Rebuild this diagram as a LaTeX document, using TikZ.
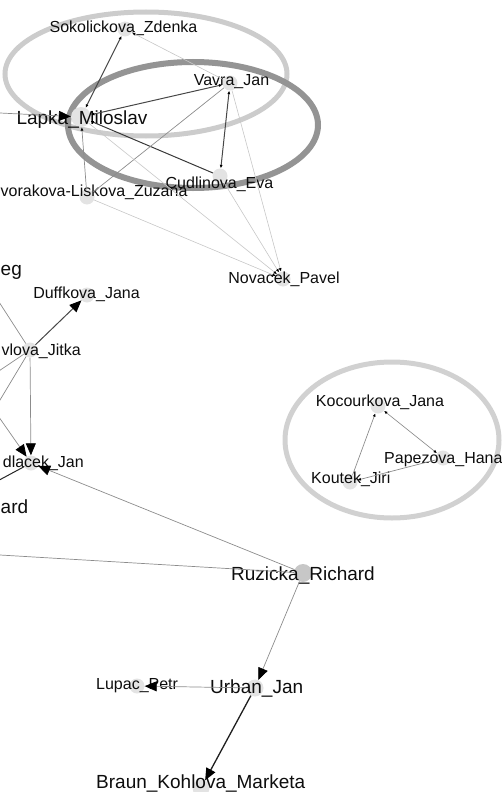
\documentclass[tikz,border=0pt]{standalone}
\usepackage{fontspec}
\setmainfont{Liberation Sans}
\usetikzlibrary{arrows.meta}

\begin{document}
\begin{tikzpicture}[x=1pt,y=-1pt,>={Latex[length=3.5pt,width=3pt,color=black]},
  dot/.style={circle,fill=black!11,inner sep=0pt,minimum size=15pt},
  lbl/.style={font=\fontsize{16}{16}\selectfont,inner sep=0pt,text=black!95,anchor=base},
  biglbl/.style={font=\fontsize{19}{19}\selectfont,inner sep=0pt,text=black!95,anchor=base},
  ring/.style={line width=5pt},
  link/.style={draw=black!45,line width=0.7pt},
  faint/.style={draw=black!22,line width=0.6pt},
  strong/.style={draw=black!72,line width=1pt},
  bigtip/.style={-{Triangle[length=12pt,width=10pt,color=black]}}]
\clip (0,0) rectangle (502,792);

\draw [ring,black!20] (146,74) ellipse [x radius=141pt, y radius=62pt];
\draw [ring,black!42,line width=6pt] (193,125) ellipse [x radius=125pt, y radius=63pt];
\draw [ring,black!18] (392,440) ellipse [x radius=107pt, y radius=78pt];

\node [dot] (sokol) at (125,29) {};
\node [dot] (vavra) at (230,83) {};
\node [dot,minimum size=20pt] (lapka) at (81,117) {};
\node [dot] (cudlin) at (220,176) {};
\node [dot] (dvorak) at (87,197) {};
\node [dot] (novacek) at (283,279) {};
\node [dot] (duffk) at (87,295) {};
\node [dot] (pavlova) at (30,350) {};
\node [dot] (sedlacek) at (31,463) {};
\node [dot,fill=black!22,minimum size=18pt] (ruzicka) at (303,573) {};
\node [dot] (kocour) at (378,406) {};
\node [dot] (papez) at (443,458) {};
\node [dot] (koutek) at (350,482) {};
\node [dot,minimum size=17pt] (urban) at (255,688) {};
\node [dot] (lupac) at (137,686) {};
\node [dot,minimum size=17pt] (braun) at (201,788) {};

\coordinate (offA) at (-10,112.5);
\coordinate (offB) at (-10,288);
\coordinate (offC) at (-10,377);
\coordinate (offD) at (-6,410);
\coordinate (offE) at (-10,485);
\coordinate (offF) at (-10,554.4);

\node [lbl] (sokol-l) at (123.5,33) {Sokolickova\_Zdenka};
\node [lbl] (vavra-l) at (231.5,85) {Vavra\_Jan};
\node [biglbl] (lapka-l) at (82,124) {Lapka\_Miloslav};
\node [lbl] (cudlin-l) at (219.5,188) {Cudlinova\_Eva};
\node [lbl,anchor=base west] (dvorak-l) at (0.5,196) {vorakova-Liskova\_Zuzana};
\node [lbl] (novacek-l) at (284,283) {Novacek\_Pavel};
\node [biglbl,anchor=base west] (eg-l) at (0.5,275) {eg};
\node [lbl] (duffk-l) at (86.5,298) {Duffkova\_Jana};
\node [lbl,anchor=base east] (pavlova-l) at (81,355) {vlova\_Jitka};
\node [lbl,anchor=base east] (sedlacek-l) at (84,467) {dlacek\_Jan};
\node [biglbl,anchor=base west] (ard-l) at (0.5,513) {ard};
\node [biglbl] (ruzicka-l) at (303,580) {Ruzicka\_Richard};
\node [lbl] (kocour-l) at (380,406) {Kocourkova\_Jana};
\node [lbl,anchor=base west] (papez-l) at (384,463) {Papezova\_Hana};
\node [lbl,anchor=base west] (koutek-l) at (311,483) {Koutek\_Jiri};
\node [biglbl,anchor=base west] (urban-l) at (210,693) {Urban\_Jan};
\node [lbl,anchor=base west] (lupac-l) at (96,689) {Lupac\_Petr};
\node [biglbl,anchor=base west] (braun-l) at (96,788) {Braun\_Kohlova\_Marketa};

% upper clusters
\draw [strong,<->] (sokol) -- (lapka);
\draw [faint,<-] (sokol) -- (vavra);
\draw [strong,<->] (lapka) -- (vavra);
\draw [strong,draw=black!78,<-] (lapka) -- (cudlin);
\draw [strong,<->] (vavra) -- (cudlin);
\draw [link,->] (dvorak) -- (lapka);
\draw [link] (dvorak) -- (vavra);
\draw [faint,->] (lapka) -- (novacek);
\draw [faint,->] (dvorak) -- (novacek);
\draw [faint,->] (cudlin) -- (novacek);
\draw [faint,->] (vavra) -- (novacek);
\draw [link,bigtip] (offA) -- (lapka);

% left side
\draw [link] (offB) -- (pavlova);
\draw [strong,bigtip] (pavlova) -- (duffk);
\draw [link] (pavlova) -- (offC);
\draw [link] (offD) -- (pavlova);
\draw [link,bigtip] (offD) -- (sedlacek);
\draw [link,bigtip] (pavlova) -- (sedlacek);
\draw [strong,draw=black!85] (sedlacek) -- (offE);
\draw [link,bigtip] (ruzicka) -- (sedlacek);
\draw [link] (offF) -- (ruzicka);

% lower chain
\draw [link,bigtip] (ruzicka) -- (urban);
\draw [link,bigtip] (urban) -- (lupac);
\draw [draw=black!88,line width=1.3pt,bigtip] (urban) -- (braun);

% right cluster
\draw [link,<->] (papez) -- (kocour);
\draw [link,->] (koutek) -- (kocour);
\draw [link,->] (papez) -- (koutek);
\end{tikzpicture}
\end{document}
